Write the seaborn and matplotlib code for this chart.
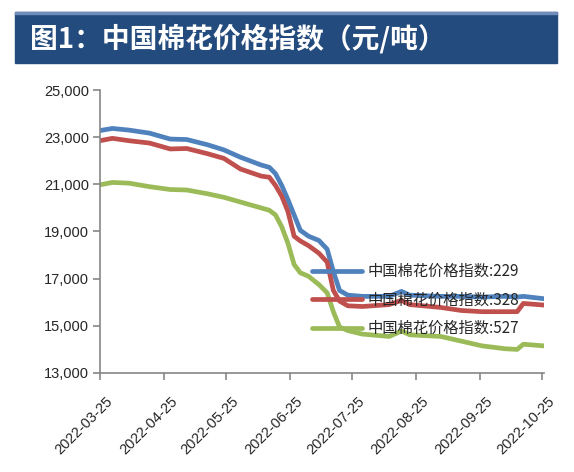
import matplotlib
matplotlib.use("Agg")
import matplotlib.pyplot as plt
from matplotlib.patches import Rectangle
from matplotlib.ticker import FuncFormatter
from matplotlib.transforms import ScaledTranslation
import pandas as pd
import seaborn as sns

# values (yuan / ton)
dates = ["2022-03-25", "2022-03-31", "2022-04-08", "2022-04-18", "2022-04-28",
         "2022-05-06", "2022-05-16", "2022-05-24", "2022-06-01", "2022-06-11",
         "2022-06-15", "2022-06-18", "2022-06-21", "2022-06-24", "2022-06-27",
         "2022-06-30", "2022-07-04", "2022-07-09", "2022-07-13", "2022-07-16",
         "2022-07-19", "2022-07-23", "2022-07-30", "2022-08-12", "2022-08-18",
         "2022-08-22", "2022-09-06", "2022-09-16", "2022-09-26", "2022-10-07",
         "2022-10-13", "2022-10-16", "2022-10-26"]
idx_229 = [23280, 23370, 23300, 23170, 22920, 22900, 22680, 22460, 22150, 21820,
           21720, 21450, 20950, 20350, 19700, 19050, 18800, 18620, 18250, 17300,
           16500, 16300, 16250, 16250, 16460, 16300, 16250, 16250, 16220, 16250,
           16220, 16250, 16150]
idx_328 = [22850, 22950, 22850, 22750, 22500, 22520, 22300, 22100, 21650, 21350,
           21300, 20950, 20500, 19850, 18800, 18600, 18400, 18080, 17700, 16500,
           16050, 15850, 15820, 15900, 16080, 15900, 15780, 15650, 15600, 15600,
           15600, 15950, 15880]
idx_527 = [20980, 21080, 21050, 20900, 20780, 20760, 20600, 20450, 20250, 20000,
           19900, 19700, 19200, 18500, 17600, 17250, 17100, 16750, 16400, 15600,
           14950, 14800, 14650, 14550, 14780, 14620, 14550, 14350, 14150, 14030,
           14000, 14220, 14150]
series_names = ["中国棉花价格指数:229", "中国棉花价格指数:328", "中国棉花价格指数:527"]
colors = ["#4F81BD", "#C0504D", "#9BBB59"]
tick_dates = ["2022-03-25", "2022-04-25", "2022-05-25", "2022-06-25",
              "2022-07-25", "2022-08-25", "2022-09-25", "2022-10-25"]
y_ticks = [13000, 15000, 17000, 19000, 21000, 23000, 25000]
title = "图1：中国棉花价格指数（元/吨）"

frames = []
for name, vals in zip(series_names, [idx_229, idx_328, idx_527]):
    frames.append(pd.DataFrame({"date": pd.to_datetime(dates), "value": vals, "series": name}))
df = pd.concat(frames, ignore_index=True)

sns.set_style("white")
plt.rcParams['font.family'] = ['Liberation Sans', 'Noto Sans CJK SC', 'DejaVu Sans']
cjk = ['Noto Sans CJK SC', 'DejaVu Sans']

fig = plt.figure(figsize=(5.74, 4.72), dpi=100)

# header band
fig.add_artist(Rectangle((15/574, 1-63/472), 542/574, 51/472, transform=fig.transFigure,
                         color="#234B7D", zorder=0))
fig.add_artist(Rectangle((15/574, 1-14/472), 542/574, 2/472, transform=fig.transFigure,
                         color="#6F8DB8", zorder=1))
fig.text(30/574, 1-39/472, title, color="white", fontsize=20, fontweight="bold",
         va="center", ha="left", family=cjk)

ax = fig.add_axes([100/574, 1-373/472, 444/574, 283/472])
sns.lineplot(data=df, x="date", y="value", hue="series", palette=colors,
             linewidth=3.4, ax=ax)

ax.set_xlim(pd.Timestamp("2022-03-25"), pd.Timestamp("2022-10-26"))
ax.set_ylim(13000, 25000)
ax.set_yticks(y_ticks)
ax.yaxis.set_major_formatter(FuncFormatter(lambda v, p: f"{v:,.0f}"))
ax.set_xticks(pd.to_datetime(tick_dates))
ax.set_xlabel("")
ax.set_ylabel("")

for s in ["top", "right"]:
    ax.spines[s].set_visible(False)
for s in ["left", "bottom"]:
    ax.spines[s].set_color("#868686")
    ax.spines[s].set_linewidth(1.2)
ax.tick_params(axis="both", direction="out", length=5, width=1.2, color="#868686",
               labelsize=10.5, labelcolor="#262626", pad=3)
ax.tick_params(axis="both", which="both", bottom=True, left=True)

# rotated date labels, nudged right/down like the original
ax.set_xticklabels(tick_dates, rotation=45, ha="right", rotation_mode="anchor")
shift = ScaledTranslation(6/100, -10/100, fig.dpi_scale_trans)
for lab in ax.get_xticklabels():
    lab.set_transform(lab.get_transform() + shift)

handles, labels = ax.get_legend_handles_labels()
leg = ax.legend(handles, labels, loc="upper left", bbox_to_anchor=(312/574, 1-263/472),
                bbox_transform=fig.transFigure, frameon=False,
                prop={"family": cjk, "size": 11}, handlelength=3.3, handletextpad=0.35,
                labelspacing=0.75, borderpad=0, borderaxespad=0)
for line in leg.get_lines():
    line.set_linewidth(3.4)
for t in leg.get_texts():
    t.set_color("#262626")

fig.savefig("out.png", dpi=100)
